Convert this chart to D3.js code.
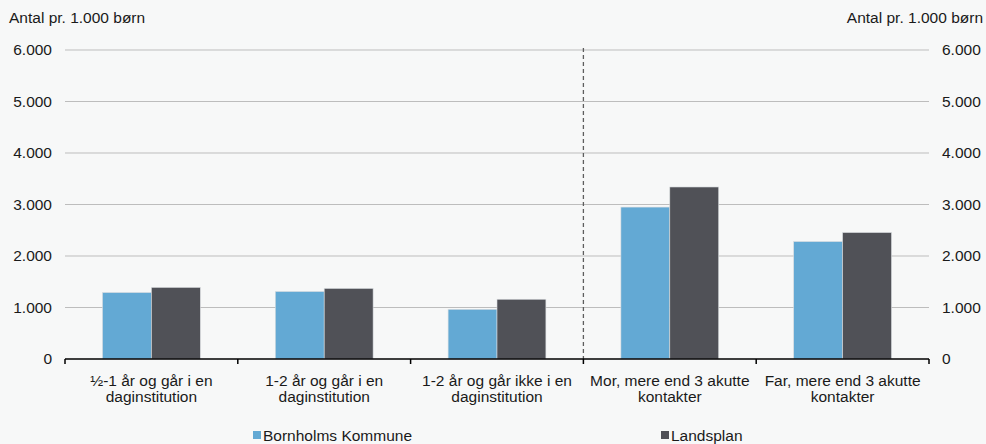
<!DOCTYPE html>
<html>
<head>
<meta charset="utf-8">
<script src="https://cdn.jsdelivr.net/npm/d3@7"></script>
<style>
  body { margin: 0; background: #f7f8f8; }
  svg { display: block; font-family: "Liberation Sans", Arial, sans-serif; }
</style>
</head>
<body>
<div id="chart"></div>
<script>
var categories = [
  ["½-1 år og går i en", "daginstitution"],
  ["1-2 år og går i en", "daginstitution"],
  ["1-2 år og går ikke i en", "daginstitution"],
  ["Mor, mere end 3 akutte", "kontakter"],
  ["Far, mere end 3 akutte", "kontakter"]
];
var seriesNames = ["Bornholms Kommune", "Landsplan"];
var bornholm = [1290, 1310, 965, 2950, 2280];
var landsplan = [1390, 1370, 1160, 3340, 2455];
var yTicks = [0, 1000, 2000, 3000, 4000, 5000, 6000];
var colors = ["#63a9d4", "#505157"];

var width = 986, height = 444;
var margin = { top: 50, right: 57, bottom: 85, left: 65 };
var plotW = width - margin.left - margin.right;
var plotH = height - margin.top - margin.bottom;
var fs = 15.5;

var svg = d3.select("#chart").append("svg")
    .attr("width", width).attr("height", height);

var fmt = function(d) { return d3.format(",")(d).replace(/,/g, "."); };

var x = d3.scaleBand().domain(d3.range(categories.length)).range([0, plotW]);
var x1 = d3.scaleBand().domain([0, 1]).range([x.bandwidth() * 0.217, x.bandwidth() * 0.783]);
var y = d3.scaleLinear().domain([0, 6000]).range([plotH, 0]);

var g = svg.append("g")
    .attr("transform", "translate(" + margin.left + "," + margin.top + ")");

// gridlines
g.selectAll(".grid").data(yTicks.slice(1)).enter().append("line")
    .attr("x1", 0).attr("x2", plotW)
    .attr("y1", function(d) { return y(d); })
    .attr("y2", function(d) { return y(d); })
    .attr("stroke", "#bdbdbd").attr("stroke-width", 1);

// dashed separator
g.append("line")
    .attr("x1", x(3)).attr("x2", x(3))
    .attr("y1", -2).attr("y2", plotH)
    .attr("stroke", "#5e5e5e").attr("stroke-width", 1.3)
    .attr("stroke-dasharray", "4,3");

// bars
var series = [bornholm, landsplan];
series.forEach(function(vals, s) {
  g.selectAll(".bar" + s).data(vals).enter().append("rect")
      .attr("x", function(d, i) { return x(i) + x1(s); })
      .attr("y", function(d) { return y(d); })
      .attr("width", x1.bandwidth())
      .attr("height", function(d) { return plotH - y(d); })
      .attr("fill", colors[s])
      .attr("stroke", "#d9dde0").attr("stroke-width", 0.6);
});

// y axes
var yLeft = d3.axisLeft(y).tickValues(yTicks).tickFormat(fmt).tickSize(0).tickPadding(13);
var yRight = d3.axisRight(y).tickValues(yTicks).tickFormat(fmt).tickSize(0).tickPadding(13);
var gl = g.append("g").call(yLeft);
var gr = g.append("g").attr("transform", "translate(" + plotW + ",0)").call(yRight);
[gl, gr].forEach(function(a) {
  a.select(".domain").remove();
  a.attr("font-size", fs).attr("font-family", "Liberation Sans, Arial, sans-serif");
  a.selectAll("text").attr("fill", "#1a1a1a");
});

// x axis
var xAxis = g.append("g").attr("transform", "translate(0," + plotH + ")");
xAxis.append("line").attr("x1", 0).attr("x2", plotW).attr("y1", 0).attr("y2", 0)
    .attr("stroke", "#000").attr("stroke-width", 1.5);
xAxis.selectAll(".tick").data(d3.range(categories.length + 1)).enter().append("line")
    .attr("x1", function(d) { return d < categories.length ? x(d) : plotW; })
    .attr("x2", function(d) { return d < categories.length ? x(d) : plotW; })
    .attr("y1", 0).attr("y2", 5)
    .attr("stroke", "#000").attr("stroke-width", 1.5);

var labels = xAxis.selectAll(".lab").data(categories).enter().append("text")
    .attr("text-anchor", "middle")
    .attr("font-size", fs).attr("fill", "#1a1a1a")
    .attr("transform", function(d, i) { return "translate(" + (x(i) + x.bandwidth() / 2) + ",0)"; });
labels.each(function(d) {
  var t = d3.select(this);
  d.forEach(function(line, j) {
    t.append("tspan").attr("x", 0).attr("y", 27 + j * 16).text(line);
  });
});

// axis titles
svg.append("text").attr("x", 9).attr("y", 23).attr("font-size", fs)
    .attr("fill", "#1a1a1a").text("Antal pr. 1.000 børn");
svg.append("text").attr("x", 983).attr("y", 23).attr("font-size", fs)
    .attr("text-anchor", "end").attr("fill", "#1a1a1a").text("Antal pr. 1.000 børn");

// legend
var legendX = [253, 661];
seriesNames.forEach(function(name, s) {
  svg.append("rect").attr("x", legendX[s]).attr("y", 431)
      .attr("width", 8).attr("height", 8).attr("fill", colors[s]);
  svg.append("text").attr("x", legendX[s] + 10).attr("y", 441)
      .attr("font-size", fs).attr("fill", "#1a1a1a").text(name);
});
</script>
</body>
</html>
